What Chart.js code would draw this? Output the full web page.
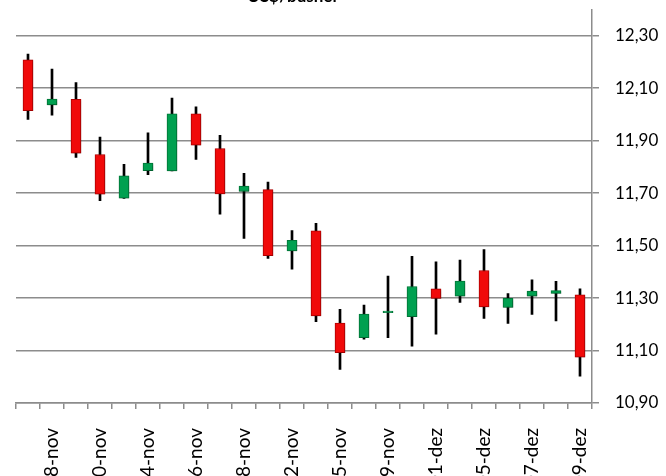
<!DOCTYPE html>
<html>
<head>
<meta charset="utf-8">
<script src="https://cdn.jsdelivr.net/npm/chart.js@4.4.1/dist/chart.umd.min.js"></script>
<style>
  html, body { margin: 0; padding: 0; background: #fff; overflow: hidden; width: 666px; height: 476px; }
  #wrap { position: absolute; left: 0; top: -20px; width: 666px; height: 520px; }
</style>
</head>
<body>
<div id="wrap"><canvas id="chart"></canvas></div>
<script>
// Trading days, nov-dez 2011
const dates = ['07-nov', '08-nov', '09-nov', '10-nov', '11-nov', '14-nov', '15-nov', '16-nov',
    '17-nov', '18-nov', '21-nov', '22-nov', '23-nov', '25-nov', '28-nov', '29-nov', '30-nov',
    '01-dez', '02-dez', '05-dez', '06-dez', '07-dez', '08-dez', '09-dez'];

const openVals = [12.208, 12.036, 12.057, 11.847, 11.681, 11.785, 11.784, 12.002, 11.870, 11.706, 11.713, 11.480,
    11.556, 11.205, 11.149, 11.244, 11.229, 11.335, 11.307, 11.405, 11.264, 11.307, 11.318, 11.312];
const highVals = [12.230, 12.173, 12.121, 11.913, 11.810, 11.930, 12.062, 12.029, 11.920, 11.775, 11.742, 11.557,
    11.585, 11.257, 11.273, 11.384, 11.459, 11.438, 11.445, 11.485, 11.317, 11.369, 11.364, 11.335];
const lowVals = [11.981, 11.997, 11.836, 11.671, 11.680, 11.770, 11.784, 11.828, 11.620, 11.527, 11.451, 11.410,
    11.210, 11.028, 11.143, 11.149, 11.117, 11.162, 11.283, 11.222, 11.203, 11.238, 11.213, 11.002];
const closeVals = [12.014, 12.058, 11.852, 11.696, 11.766, 11.814, 12.002, 11.883, 11.697, 11.727, 11.461, 11.520,
    11.232, 11.092, 11.239, 11.250, 11.344, 11.299, 11.365, 11.266, 11.299, 11.327, 11.328, 11.075];

const yTicks = [10.9, 11.1, 11.3, 11.5, 11.7, 11.9, 12.1, 12.3];

const upColor = '#00a050', upBorder = '#007a3a';
const downColor = '#f00a0a', downBorder = '#b80000';
const gridColor = '#8c8c8c';
const font = "Lato, 'Open Sans', sans-serif";

const isUp = openVals.map((o, i) => closeVals[i] >= o);

// soft drop shadow under the candle bodies
const bodyShadow = {
    id: 'bodyShadow',
    beforeDatasetDraw(chart, args) {
        if (args.index !== 0) return;
        const ctx = chart.ctx;
        ctx.save();
        ctx.shadowColor = 'rgba(0,0,0,0.35)';
        ctx.shadowBlur = 3;
        ctx.shadowOffsetX = 1;
        ctx.shadowOffsetY = 1;
    },
    afterDatasetDraw(chart, args) {
        if (args.index !== 0) return;
        chart.ctx.restore();
    }
};

// Excel put the title a bit left of the canvas centre
const titleShift = {
    id: 'titleShift',
    afterLayout(chart) {
        const t = chart.titleBlock;
        if (!t) return;
        const half = (t.right - t.left) / 2;
        t.left = 292 - half;
        t.right = 292 + half;
    }
};

new Chart(document.getElementById('chart'), {
    type: 'bar',
    data: {
        labels: dates,
        datasets: [
            {
                label: 'corpo',
                data: openVals.map((o, i) => [o, closeVals[i]]),
                backgroundColor: isUp.map(u => u ? upColor : downColor),
                borderColor: isUp.map(u => u ? upBorder : downBorder),
                borderWidth: 1,
                borderSkipped: false,
                barThickness: 10,
                grouped: false,
                order: 1
            },
            {
                label: 'sombra',
                data: lowVals.map((l, i) => [l, highVals[i]]),
                backgroundColor: '#000',
                borderWidth: 0,
                barThickness: 2,
                grouped: false,
                order: 2
            }
        ]
    },
    options: {
        responsive: true,
        maintainAspectRatio: false,
        animation: false,
        layout: { padding: { left: 16, right: 6, top: 0, bottom: 17 } },
        plugins: {
            legend: { display: false },
            tooltip: { enabled: false },
            title: {
                display: true,
                text: 'US$/bushel',
                color: '#000',
                font: { family: font, size: 17, weight: 'bold' },
                padding: { top: 6, bottom: 3 }
            }
        },
        scales: {
            x: {
                grid: { offset: true, drawOnChartArea: false, drawTicks: true, tickLength: 6, color: gridColor, lineWidth: 1.5 },
                border: { display: true, color: gridColor, width: 1.5 },
                ticks: {
                    autoSkip: false,
                    minRotation: 90,
                    maxRotation: 90,
                    padding: 19,
                    color: '#000',
                    font: { family: font, size: 19 },
                    callback: (v, i) => (i % 2 === 1 ? dates[i] : '')
                },
                afterFit: s => { s.height = 80; }
            },
            y: {
                position: 'right',
                min: 10.9,
                max: 12.4,
                afterBuildTicks: s => { s.ticks = yTicks.map(v => ({ value: v })); },
                grid: { color: gridColor, lineWidth: 1.5, tickLength: 7 },
                border: { display: true, color: gridColor, width: 1.5 },
                ticks: {
                    padding: 16,
                    color: '#000',
                    font: { family: font, size: 17 },
                    callback: v => v.toFixed(2).replace('.', ',')
                },
                afterFit: s => { s.width = 68; }
            }
        }
    },
    plugins: [bodyShadow, titleShift]
});
</script>
</body>
</html>
